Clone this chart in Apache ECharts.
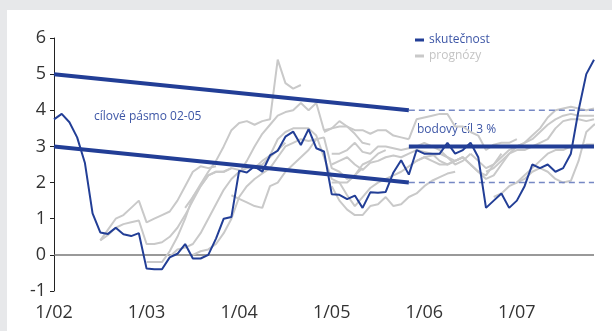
<!DOCTYPE html>
<html>
<head>
<meta charset="utf-8">
<script src="https://cdn.jsdelivr.net/npm/echarts@6/dist/echarts.min.js"></script>
<style>
  html, body { margin: 0; padding: 0; background: #e7e8ea; }
  #panel { position: absolute; left: 7px; top: 10px; width: 605px; height: 321px; background: #fff; }
  #chart { position: absolute; left: 0; top: 0; width: 612px; height: 331px; }
</style>
</head>
<body>
<div id="panel"></div>
<div id="chart"></div>
<script>
// měsíce od 1/2002 (index 0) do 11/2007 (index 70)
const yearLabels = ['1/02', '1/03', '1/04', '1/05', '1/06', '1/07'];

// skutečná inflace
const actual = [
  3.75, 3.9, 3.67, 3.25, 2.55, 1.15, 0.62, 0.58, 0.75, 0.57, 0.52, 0.6,
  -0.38, -0.4, -0.4, -0.07, 0.03, 0.3, -0.1, -0.1, 0.0, 0.45, 1.0, 1.05,
  2.33, 2.28, 2.45, 2.3, 2.75, 2.88, 3.27, 3.41, 3.04, 3.48, 2.95, 2.86,
  1.68, 1.66, 1.54, 1.64, 1.3, 1.73, 1.72, 1.74, 2.28, 2.62, 2.22, 2.9,
  2.8, 2.8, 2.8, 3.1, 2.8, 2.9, 3.1, 2.7, 1.3, 1.5, 1.7, 1.3,
  1.5, 1.9, 2.5, 2.4, 2.5, 2.3, 2.4, 2.8, 4.0, 5.0, 5.4
];

// prognózy: index začátku a hodnoty
const forecastStart = [6, 6, 12, 15, 18, 17, 24, 26, 23, 36, 36, 35, 46, 36, 36, 52, 54, 56, 57, 60, 47];
const forecastValues = [
  [0.4, 0.7, 1.0, 1.1, 1.3, 1.5, 0.9, 1.0, 1.1, 1.2, 1.5, 1.9, 2.3, 2.45, 2.4, 2.45],
  [0.4, 0.55, 0.75, 0.85, 0.9, 0.95, 0.3, 0.3, 0.35, 0.5, 0.75, 1.1, 1.5, 1.9, 2.2, 2.3, 2.3, 2.4],
  [-0.2, -0.2, -0.2, 0.1, 0.5, 1.0, 1.6, 1.9, 2.2, 2.3, 2.3, 2.4, 2.35],
  [-0.05, 0.15, 0.2, 0.3, 0.6, 1.0, 1.4, 1.8, 2.1, 2.3, 2.4, 2.45, 2.5, 2.7, 2.9, 3.1],
  [0.0, 0.1, 0.15, 0.3, 0.6, 1.0, 1.6, 1.9, 2.1, 2.25, 2.4, 2.7, 3.0, 3.1, 3.2, 3.15, 3.2],
  [1.3, 1.6, 1.95, 2.3, 2.6, 3.0, 3.45, 3.65, 3.7, 3.6, 3.7, 3.75, 5.4, 4.75, 4.6, 4.7],
  [2.25, 2.6, 3.0, 3.35, 3.6, 3.85, 3.95, 4.0, 4.2, 4.0, 4.2, 3.45, 3.5, 3.55, 3.55, 3.35, 3.1, 3.05],
  [2.4, 2.6, 2.75, 3.2, 3.4, 3.5, 3.5, 3.5, 3.3, 2.7, 2.1, 2.0, 2.0, 2.2, 2.5, 2.6, 2.8, 2.9],
  [1.65, 1.55, 1.45, 1.35, 1.3, 1.9, 2.0, 2.3, 2.5, 2.7, 2.9, 3.2, 3.25, 2.4, 2.3, 2.1, 2.2, 2.4],
  [1.9, 1.5, 1.25, 1.1, 1.1, 1.35, 1.4, 1.6, 1.35, 1.4, 1.6, 1.7, 1.9, 2.05, 2.15, 2.25, 2.3],
  [2.0, 2.0, 1.65, 1.35, 1.6, 1.85, 2.0, 2.1, 2.2, 2.3, 2.45, 2.6, 2.7, 2.75, 2.8, 2.7, 2.6],
  [3.4, 3.5, 3.7, 3.55, 3.45, 3.45, 3.35, 3.45, 3.45, 3.3, 3.25, 3.2],
  [3.2, 3.75, 3.8, 3.85, 3.9, 3.9, 3.55, 3.55, 3.4, 3.3, 2.9, 3.05, 3.1, 3.1, 3.2],
  [2.8, 2.8, 2.9, 3.1, 2.85, 2.8, 3.0, 3.0, 2.95, 2.9, 2.95, 3.0, 3.1, 3.0, 2.9, 2.7, 2.5, 2.6, 2.8],
  [2.5, 2.6, 2.7, 2.5, 2.35, 2.55, 2.6, 2.7, 2.75, 2.7, 2.8, 2.9, 2.85, 2.8, 2.6, 2.5, 2.6, 2.7],
  [2.6, 2.7, 2.5, 2.3, 2.1, 2.2, 2.5, 2.8, 3.0, 3.1, 3.3, 3.5, 3.8, 4.0, 4.05, 4.1, 4.05, 4.0, 4.05],
  [2.8, 2.6, 2.4, 2.5, 2.7, 2.9, 3.0, 3.1, 3.2, 3.4, 3.6, 3.75, 3.85, 3.9, 3.85, 3.85, 3.85],
  [2.3, 2.4, 2.6, 2.8, 2.9, 2.9, 3.0, 3.1, 3.2, 3.5, 3.7, 3.75, 3.75, 3.7, 3.75],
  [1.6, 1.7, 1.9, 2.0, 2.1, 2.3, 2.4, 2.3, 2.1, 2.0, 2.05, 2.6, 3.4, 3.6, 3.7],
  [2.0, 2.2, 2.4, 2.6, 2.8, 2.9, 2.9, 3.0, 3.0, 3.05, 3.05],
  [2.6, 2.7, 2.6, 2.5, 2.5, 2.6, 2.7, 2.5, 2.3, 2.2, 2.5, 2.8]
];

// cílové pásmo 2002-2005 a bodový cíl
const bandMonths = [0, 46];
const bandUpper = [5, 4];
const bandLower = [3, 2];
const pointTarget = 3;
const lastMonth = 70;

const FONT = '"Open Sans", "Noto Sans", sans-serif';
const BLUE = '#223e96';
const GREY = '#c9c9c9';

const chart = echarts.init(document.getElementById('chart'), null, { renderer: 'canvas' });

const series = [];

forecastValues.forEach(function (vals, k) {
  series.push({
    name: 'prognózy',
    type: 'line',
    color: GREY,
    symbol: 'none',
    silent: true,
    z: 2,
    lineStyle: { color: GREY, width: 2 },
    data: vals.map(function (v, i) { return [forecastStart[k] + i, v]; })
  });
});

function seg(x0, y0, x1, y1) { return [[x0, y0], [x1, y1]]; }

series.push(
  {
    type: 'line', symbol: 'none', silent: true, z: 3,
    lineStyle: { color: BLUE, width: 4 },
    data: seg(bandMonths[0], bandUpper[0], bandMonths[1], bandUpper[1])
  },
  {
    type: 'line', symbol: 'none', silent: true, z: 3,
    lineStyle: { color: BLUE, width: 4 },
    data: seg(bandMonths[0], bandLower[0], bandMonths[1], bandLower[1])
  },
  {
    type: 'line', symbol: 'none', silent: true, z: 3,
    lineStyle: { color: '#7688c4', width: 1.5, type: [6, 4] },
    data: seg(bandMonths[1], bandUpper[1], lastMonth, bandUpper[1])
  },
  {
    type: 'line', symbol: 'none', silent: true, z: 3,
    lineStyle: { color: '#7688c4', width: 1.5, type: [6, 4] },
    data: seg(bandMonths[1], bandLower[1], lastMonth, bandLower[1])
  },
  {
    type: 'line', symbol: 'none', silent: true, z: 3,
    lineStyle: { color: BLUE, width: 4 },
    data: seg(bandMonths[1], pointTarget, lastMonth, pointTarget)
  },
  {
    name: 'skutečnost',
    type: 'line',
    color: BLUE,
    symbol: 'none',
    silent: true,
    z: 4,
    lineStyle: { color: BLUE, width: 2 },
    data: actual.map(function (v, i) { return [i, v]; }),
    markLine: {
      silent: true,
      symbol: 'none',
      label: { show: false },
      lineStyle: { color: '#777', width: 1.5, type: 'solid' },
      z: 1,
      data: [{ yAxis: 0 }]
    }
  }
);

const option = {
  animation: false,
  backgroundColor: 'transparent',
  grid: { left: 54, right: 18, top: 38, bottom: 40 },
  legend: {
    orient: 'vertical',
    left: 410,
    top: 28,
    icon: 'rect',
    itemWidth: 9,
    itemHeight: 3,
    itemGap: 2,
    selectedMode: false,
    textStyle: { fontSize: 12, fontFamily: FONT, lineHeight: 14 },
    data: [
      { name: 'skutečnost', textStyle: { color: '#3d56a6' } },
      { name: 'prognózy', textStyle: { color: '#c4c4c4' } }
    ]
  },
  xAxis: {
    type: 'value',
    min: 0,
    max: lastMonth,
    interval: 12,
    axisLine: { show: false },
    axisTick: { show: false },
    splitLine: { show: false },
    axisLabel: {
      color: '#333',
      fontSize: 18,
      fontFamily: FONT,
      margin: 13,
      showMaxLabel: false,
      formatter: function (v) { return yearLabels[v / 12] || ''; }
    }
  },
  yAxis: {
    type: 'value',
    min: -1,
    max: 6,
    interval: 1,
    axisLine: { show: true, lineStyle: { color: '#222', width: 1 } },
    axisTick: { show: true, inside: false, length: 4, lineStyle: { color: '#222' } },
    splitLine: { show: false },
    axisLabel: { color: '#333', fontSize: 18, fontFamily: FONT, margin: 8 }
  },
  graphic: [
    {
      type: 'text', left: 94, top: 111,
      style: { text: 'cílové pásmo 02-05', fill: '#3d56a6', font: '12px ' + FONT }
    },
    {
      type: 'text', left: 417, top: 124,
      style: { text: 'bodový cíl 3 %', fill: '#3d56a6', font: '12px ' + FONT }
    }
  ],
  series: series
};

chart.setOption(option);
</script>
</body>
</html>
